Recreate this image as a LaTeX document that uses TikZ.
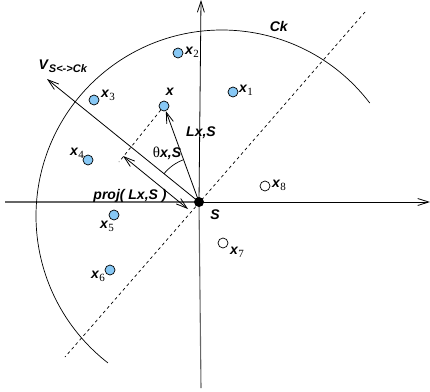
\documentclass[tikz,border=0pt]{standalone}
\usepackage{fontspec}
\setmainfont{Liberation Serif}
\setsansfont{Liberation Sans}
\usepackage{tikz}
\usetikzlibrary{arrows.meta,positioning,calc}

\definecolor{ptblue}{RGB}{135,200,245}
\newcommand{\bi}[1]{\textsf{\textbf{\textit{#1}}}}
\newcommand{\ptlab}[2]{\bi{x}\raisebox{-.45ex}{\fontsize{11}{11}\selectfont #2}}

\begin{document}
\begin{tikzpicture}[x=1pt, y=-1pt,
  every node/.style={font=\fontsize{14}{16}\selectfont},
  pt/.style={circle, draw, fill=ptblue, line width=.7pt, inner sep=0pt, minimum size=10pt},
  opt/.style={circle, draw, fill=white, line width=.7pt, inner sep=0pt, minimum size=10pt},
  lbl/.style={inner sep=0pt},
  axis/.style={draw=black!60, line width=1.1pt},
  arr/.style={line width=.8pt, -{Straight Barb[length=11pt,width=7pt]}},
  darr/.style={line width=.8pt, {Straight Barb[length=11pt,width=7pt]}-{Straight Barb[length=11pt,width=7pt]}},
  dashln/.style={line width=.7pt, dash pattern=on 3pt off 3pt}]
\useasboundingbox (0,0) rectangle (430,391);

% axes and source point
\coordinate (S) at (199,202);
\coordinate (W) at (5,202);
\coordinate (E) at (430,202);
\coordinate (N) at (201,0);
\coordinate (D) at (201,388);
\draw[axis] (W) -- (S);
\draw[axis, line width=.8pt, draw=black, -{Straight Barb[length=11pt,width=7pt]}] (S) -- (E);
\draw[line width=.8pt, -{Straight Barb[length=11pt,width=7pt]}] (S) -- (N);
\draw[axis] (S) -- (D);

% circle Ck
\coordinate (ctr) at (222,216);
\draw[line width=.7pt] (ctr) ++(-37.4:186) arc[start angle=-37.4, end angle=-232.2, radius=186];
\node[lbl] (Ck) at (279,26) {\bi{Ck}};

% border line through S
\coordinate (b1) at (365,12);
\coordinate (b2) at (65,357);
\draw[dashln] (b1) -- (b2);

% sensing points
\node[pt]  (x1) at (233,92)  {};
\node[pt]  (x2) at (178,53)  {};
\node[pt]  (x3) at (94,100)  {};
\node[pt]  (x4) at (88,160)  {};
\node[pt]  (x5) at (114,215) {};
\node[pt]  (x6) at (110,270) {};
\node[opt] (x7) at (223,243) {};
\node[opt] (x8) at (265,186) {};
\node[pt]  (x)  at (164,106) {};

\node[lbl] (lx1) at (246,90)  {\ptlab{x}{1}};
\node[lbl] (lx2) at (192,52)  {\ptlab{x}{2}};
\node[lbl] (lx3) at (108,95)  {\ptlab{x}{3}};
\node[lbl] (lx4) at (77,153)  {\ptlab{x}{4}};
\node[lbl] (lx5) at (107,226) {\ptlab{x}{5}};
\node[lbl] (lx6) at (98,276)  {\ptlab{x}{6}};
\node[lbl] (lx7) at (237,252) {\ptlab{x}{7}};
\node[lbl] (lx8) at (279,185) {\ptlab{x}{8}};
\node[lbl] (lx)  at (170,92)  {\bi{x}};

% direction S <-> Ck
\coordinate (V) at (47,79);
\draw[arr] (S) -- (V);
\node[lbl] (lV) at (63,66) {\bi{V}\raisebox{-.5ex}{\fontsize{11}{11}\selectfont\bi{S<->Ck}}};

% vector to x and its angle
\draw[arr] (S) -- (x);
\node[lbl] (lL) at (201,133) {\bi{Lx,S}};
\draw[line width=.7pt] (S) ++(-141:45) arc[start angle=-141, end angle=-110.6, radius=45];
\node[lbl] (lth) at (167,153) {{\fontsize{15}{16}\selectfont θ}\bi{x,S}};

% projection
\coordinate (f) at (119,162);
\draw[dashln] (x) -- (f);
\coordinate (p1) at (123,156);
\coordinate (p2) at (188,209);
\draw[darr] (p1) -- (p2);
\node[lbl] (lp) at (130,196) {\bi{proj( Lx,S )}};

\node[circle, fill=black, inner sep=0pt, minimum size=10pt] (Sdot) at (S) {};
\node[lbl] (lS) at (215,215) {\bi{S}};
\end{tikzpicture}
\end{document}
